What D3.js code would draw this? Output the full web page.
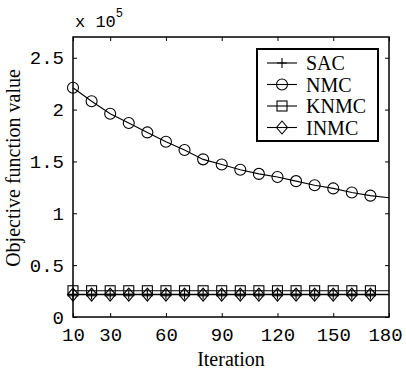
<!DOCTYPE html>
<html>
<head>
<meta charset="utf-8">
<script src="https://cdn.jsdelivr.net/npm/d3@7"></script>
<style>
  body { margin: 0; background: #fff; }
</style>
</head>
<body>
<div id="container"></div>
<script>
// iterations where markers sit
const iterations = [10, 20, 30, 40, 50, 60, 70, 80, 90, 100, 110, 120, 130, 140, 150, 160, 170, 180];

// values in units of 1e5
const nmcValues  = [2.21, 2.08, 1.96, 1.87, 1.78, 1.69, 1.61, 1.52, 1.47, 1.42, 1.38, 1.35, 1.31, 1.27, 1.24, 1.20, 1.17, 1.15];
const sacValues  = [0.218, 0.218, 0.218, 0.218, 0.218, 0.218, 0.218, 0.218, 0.218, 0.218, 0.218, 0.218, 0.218, 0.218, 0.218, 0.218, 0.218, 0.218];
const knmcValues = [0.253, 0.253, 0.253, 0.253, 0.253, 0.253, 0.253, 0.253, 0.253, 0.253, 0.253, 0.253, 0.253, 0.253, 0.253, 0.253, 0.253, 0.253];
const inmcValues = [0.216, 0.216, 0.216, 0.216, 0.216, 0.216, 0.216, 0.216, 0.216, 0.216, 0.216, 0.216, 0.216, 0.216, 0.216, 0.216, 0.216, 0.216];

const xTicks = [10, 30, 60, 90, 120, 150, 180];
const yTicks = [0, 0.5, 1, 1.5, 2, 2.5];
const seriesNames = ["SAC", "NMC", "KNMC", "INMC"];

const width = 406, height = 372;
const margin = { top: 37, right: 17, bottom: 55, left: 73 };
const innerW = width - margin.left - margin.right;
const innerH = height - margin.top - margin.bottom;

const svg = d3.select("#container")
  .append("svg")
  .attr("width", width)
  .attr("height", height);

const plot = svg.append("g")
  .attr("transform", `translate(${margin.left},${margin.top})`);

const x = d3.scaleLinear().domain([10, 180]).range([0, innerW]);
const y = d3.scaleLinear().domain([0, 2.7]).range([innerH, 0]);

const mono = "'Liberation Mono', 'DejaVu Sans Mono', monospace";
const serif = "'Liberation Serif', 'Times New Roman', serif";

// axes with inward ticks on all four sides
const fmtY = d => d3.format("")(d);
const axBottom = plot.append("g")
  .attr("transform", `translate(0,${innerH})`)
  .call(d3.axisBottom(x).tickValues(xTicks).tickSizeInner(-4).tickSizeOuter(0));
const axTop = plot.append("g")
  .call(d3.axisTop(x).tickValues(xTicks).tickSizeInner(-4).tickSizeOuter(0).tickFormat(""));
const axLeft = plot.append("g")
  .call(d3.axisLeft(y).tickValues(yTicks).tickSizeInner(-4).tickSizeOuter(0).tickPadding(9).tickFormat(fmtY));
const axRight = plot.append("g")
  .attr("transform", `translate(${innerW},0)`)
  .call(d3.axisRight(y).tickValues(yTicks).tickSizeInner(-4).tickSizeOuter(0).tickFormat(""));

[axBottom, axTop, axLeft, axRight].forEach(a => {
  a.select(".domain").remove();
  a.selectAll("line").attr("stroke", "#000");
  a.selectAll("text")
    .attr("fill", "#000")
    .style("font-family", mono)
    .style("font-size", "19px");
});
axBottom.selectAll("text")
  .attr("y", 24)
  .attr("dy", null)
  .attr("dx", d => d === 180 ? -4 : 0);

// frame
plot.append("rect")
  .attr("width", innerW)
  .attr("height", innerH)
  .attr("fill", "none")
  .attr("stroke", "#000")
  .attr("stroke-width", 1.5);

// exponent label
const expo = svg.append("text")
  .attr("x", 75)
  .attr("y", 27)
  .style("font-family", mono)
  .style("font-size", "17px");
expo.append("tspan").text("x 10");
expo.append("tspan").attr("dy", -10).style("font-size", "12px").text("5");

// markers
function marker(g, type) {
  const common = sel => sel.attr("fill", "none").attr("stroke", "#000").attr("stroke-width", 1.1);
  if (type === "plus") {
    g.append("path").attr("d", "M-5,0H5M0,-5V5").call(common);
  } else if (type === "circle") {
    g.append("circle").attr("r", 5.5).call(common);
  } else if (type === "square") {
    g.append("rect").attr("x", -5).attr("y", -5).attr("width", 10).attr("height", 10).call(common);
  } else if (type === "diamond") {
    g.append("path").attr("d", "M0,-6.5L5.5,0L0,6.5L-5.5,0Z").call(common);
  }
}

const line = d3.line()
  .x(d => x(d.x))
  .y(d => y(d.y));

const series = [
  { name: "SAC", vals: sacValues, m: "plus" },
  { name: "NMC", vals: nmcValues, m: "circle" },
  { name: "KNMC", vals: knmcValues, m: "square" },
  { name: "INMC", vals: inmcValues, m: "diamond" }
];

series.forEach(s => {
  const pts = iterations.map((it, i) => ({ x: it, y: s.vals[i] }));
  plot.append("path")
    .datum(pts)
    .attr("fill", "none")
    .attr("stroke", "#000")
    .attr("stroke-width", 1.1)
    .attr("d", line);
  // markers every 10 iterations, not on the last point
  pts.slice(0, -1).forEach(p => {
    const g = plot.append("g").attr("transform", `translate(${x(p.x)},${y(p.y)})`);
    marker(g, s.m);
  });
});

// legend
const legend = svg.append("g").attr("transform", "translate(257,49)");
legend.append("rect")
  .attr("width", 121)
  .attr("height", 92)
  .attr("fill", "#fff")
  .attr("stroke", "#000")
  .attr("stroke-width", 2);

series.forEach((s, i) => {
  const g = legend.append("g").attr("transform", `translate(0,${14 + i * 21.5})`);
  g.append("line")
    .attr("x1", 10).attr("x2", 40)
    .attr("stroke", "#000").attr("stroke-width", 1.1);
  marker(g.append("g").attr("transform", "translate(25,0)"), s.m);
  g.append("text")
    .attr("x", 49)
    .attr("y", 7)
    .style("font-family", serif)
    .style("font-size", "20px")
    .text(seriesNames[i]);
});

// axis titles
svg.append("text")
  .attr("x", margin.left + innerW / 2)
  .attr("y", 366)
  .attr("text-anchor", "middle")
  .style("font-family", serif)
  .style("font-size", "20px")
  .text("Iteration");

svg.append("text")
  .attr("transform", "translate(20,168) rotate(-90)")
  .attr("text-anchor", "middle")
  .style("font-family", serif)
  .style("font-size", "20px")
  .text("Objective function value");
</script>
</body>
</html>
